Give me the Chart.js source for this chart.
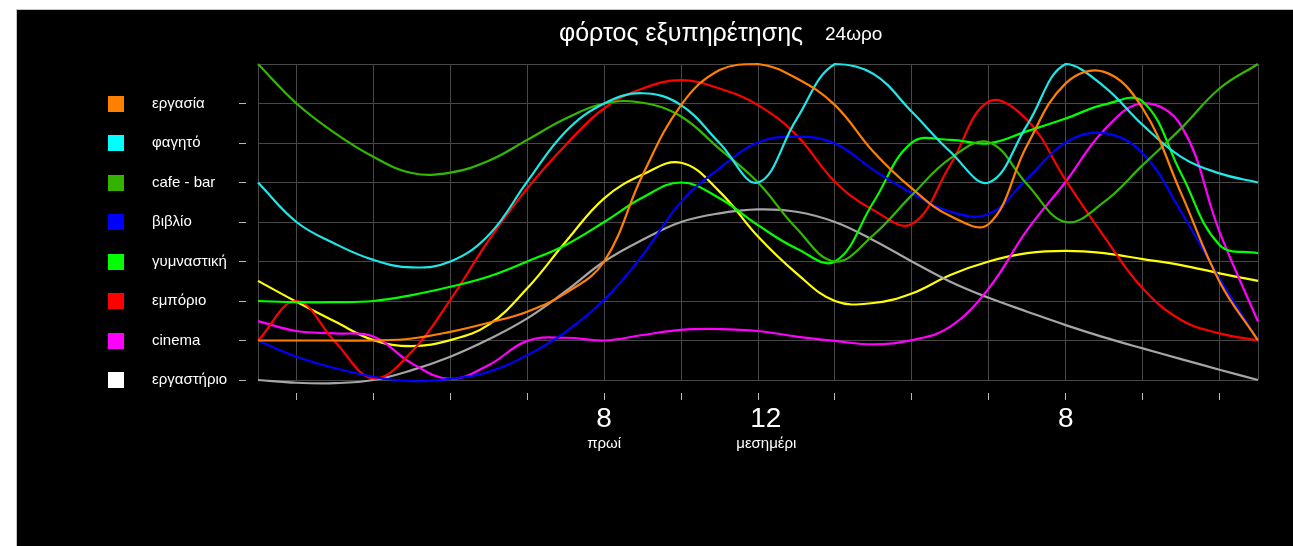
<!DOCTYPE html>
<html><head><meta charset="utf-8">
<script src="https://cdn.jsdelivr.net/npm/chart.js@4/dist/chart.umd.min.js"></script>
<style>
html,body{margin:0;padding:0;background:#fff;}
#wrap{position:absolute;left:16px;top:9px;width:1276px;height:536px;border-left:1px solid #c4c4c4;border-top:1px solid #c4c4c4;background:#000;}
canvas{display:block;}
</style></head><body>
<div id="wrap"><canvas id="c"></canvas></div>
<script>
// hours of the day (-1 .. 25)
const hours = [-1,0,1,2,3,4,5,6,7,8,9,10,11,12,13,14,15,16,17,18,19,20,21,22,23,24,25];
const xGridHours = [-1,0,2,4,6,8,10,12,14,16,18,20,22,24,25];
const xLabels = {8: '8', 12: '  12', 20: '8'};
const xSubLabels = {8: 'πρωί', 12: '    μεσημέρι'};
const titleMain = 'φόρτος εξυπηρέτησης';
const titleSub = '24ωρο';

const names = ['εργασία','φαγητό','cafe - bar','βιβλίο','γυμναστική','εμπόριο','cinema','εργαστήριο'];
const squareColors = ['#ff8000','#00ffff','#33b300','#0000ff','#00ff00','#ff0000','#ff00ff','#ffffff'];

const ergasia    = [1.0,1.0,1.0,1.0,1.05,1.22,1.45,1.73,2.2,3.0,5.19,6.96,7.85,8.0,7.64,6.96,5.78,4.85,4.15,3.95,5.95,7.51,7.8,6.88,4.73,2.49,1.0];
const fagito     = [5.0,4.0,3.45,3.04,2.85,3.0,3.67,5.02,6.29,7.0,7.26,6.96,6.0,5.0,6.6,8.0,7.75,6.79,5.78,5.0,6.46,8.0,7.43,6.46,5.65,5.23,5.0];
const cafeBar    = [8,7.0,6.25,5.65,5.24,5.25,5.55,6.08,6.62,7.0,7.02,6.67,5.85,5.0,3.84,3.0,3.67,4.68,5.61,6.02,4.95,4.0,4.51,5.44,6.37,7.38,8];
const vivlio     = [1.0,0.59,0.3,0.08,-0.03,0.03,0.21,0.63,1.22,2.03,3.16,4.51,5.36,6.01,6.16,5.99,5.32,4.73,4.26,4.2,5.1,6.01,6.25,5.74,4.26,2.57,1.0];
const gymnastiki = [2.0,1.97,1.97,2.0,2.15,2.36,2.62,3.0,3.42,4.0,4.62,5.0,4.6,3.92,3.33,3.0,4.5,6.01,6.08,5.99,6.3,6.62,6.97,7.05,5.23,3.42,3.21];
const emporio    = [1.0,2.0,0.97,0.04,0.72,2.03,3.54,4.85,5.95,6.88,7.38,7.59,7.38,6.96,6.2,5.02,4.3,3.95,5.45,7.05,6.58,5.06,3.63,2.32,1.52,1.18,1.0];
const cinema     = [1.49,1.24,1.18,1.1,0.42,0.03,0.38,0.99,1.07,1.0,1.14,1.27,1.29,1.24,1.1,0.99,0.9,1.01,1.35,2.32,3.8,5.02,6.33,7.0,6.44,3.75,1.48];
const ergastirio = [0.0,-0.07,-0.08,0.0,0.25,0.59,1.03,1.56,2.25,3.0,3.55,4.0,4.22,4.32,4.26,4.0,3.54,3.0,2.49,2.08,1.73,1.39,1.08,0.8,0.53,0.26,0.0];
const yellowLine = [2.51,1.98,1.48,1.01,0.86,1.01,1.4,2.32,3.5,4.6,5.2,5.5,4.77,3.63,2.7,2.0,1.95,2.19,2.66,3.0,3.21,3.27,3.21,3.06,2.91,2.7,2.51];

const lineColors = {
  ergasia:'#ff8000', fagito:'#1ee8e8', cafeBar:'#33b800', vivlio:'#0000ff',
  gymnastiki:'#00ff00', emporio:'#ff0000', cinema:'#ff00ff', ergastirio:'#a6a6a6', yellow:'#ffff00'
};

const FONT = '"Liberation Sans", Arial, Helvetica, sans-serif';
Chart.defaults.font.family = FONT;

function pts(arr){ return arr.map((v,i)=>({x: hours[i], y: v})); }
function ds(label, arr, color){
  return {label, data: pts(arr), borderColor: color, backgroundColor: color, borderWidth: 2.2,
          pointRadius: 0, tension: 0.4, fill: false, clip: 8};
}

const datasets = [
  ds(names[0], ergasia, lineColors.ergasia),
  ds(names[1], fagito, lineColors.fagito),
  ds(names[2], cafeBar, lineColors.cafeBar),
  ds(names[3], vivlio, lineColors.vivlio),
  ds(names[4], gymnastiki, lineColors.gymnastiki),
  ds(names[5], emporio, lineColors.emporio),
  ds(names[6], cinema, lineColors.cinema),
  ds(names[7], ergastirio, lineColors.ergastirio),
  ds('', yellowLine, lineColors.yellow)
];

const GRID = '#474747';
const TICK = '#b8b8b8';

const decor = {
  id: 'decor',
  afterDraw(chart){
    const ctx = chart.ctx;
    const y = chart.scales.y;
    ctx.save();
    names.forEach((n,i)=>{
      const py = Math.round(y.getPixelForValue(7 - i));
      ctx.fillStyle = squareColors[i];
      ctx.fillRect(91, py - 8, 16, 16);
    });
    ctx.fillStyle = '#ffffff';
    ctx.textBaseline = 'alphabetic';
    ctx.textAlign = 'left';
    ctx.font = '25px ' + FONT;
    ctx.fillText(titleMain, 542, 31);
    ctx.font = '19px ' + FONT;
    ctx.fillText(titleSub, 808, 30);
    ctx.restore();
  }
};

new Chart(document.getElementById('c'), {
  type: 'line',
  data: { datasets },
  plugins: [decor],
  options: {
    responsive: true,
    maintainAspectRatio: false,
    animation: false,
    events: [],
    layout: { padding: { left: 135, right: 35, top: 54, bottom: 0 } },
    plugins: { legend: { display: false }, tooltip: { enabled: false }, title: { display: false } },
    scales: {
      x: {
        type: 'linear', min: -1, max: 25, position: 'bottom',
        afterBuildTicks: s => { s.ticks = xGridHours.map(v => ({ value: v })); },
        afterFit: s => { s.height = 47; },
        grid: {
          color: GRID, lineWidth: 1, drawTicks: true, tickLength: 20,
          tickColor: c => (c.tick && (c.tick.value === -1 || c.tick.value === 25)) ? 'rgba(0,0,0,0)' : TICK,
          tickBorderDash: [7, 13], tickBorderDashOffset: 7
        },
        border: { display: false },
        ticks: { color: '#ffffff', font: { size: 28 }, padding: 2, maxRotation: 0, autoSkip: false,
                 callback: v => xLabels[v] !== undefined ? xLabels[v] : '' }
      },
      x2: {
        type: 'linear', min: -1, max: 25, position: 'bottom',
        afterBuildTicks: s => { s.ticks = xGridHours.map(v => ({ value: v })); },
        afterFit: s => { s.height = 119; },
        grid: { display: false },
        border: { display: false },
        ticks: { color: '#ffffff', font: { size: 15 }, padding: 0, maxRotation: 0, autoSkip: false,
                 callback: v => xSubLabels[v] !== undefined ? xSubLabels[v] : '' }
      },
      y: {
        type: 'linear', min: 0, max: 8, position: 'left',
        afterFit: s => { s.width = 106; },
        grid: {
          color: GRID, lineWidth: 1, drawTicks: true, tickLength: 19,
          tickColor: c => (c.tick && c.tick.value === 8) ? 'rgba(0,0,0,0)' : TICK,
          tickBorderDash: [7, 12], tickBorderDashOffset: 0
        },
        border: { display: false },
        ticks: { stepSize: 1, color: '#ffffff', font: { size: 15 }, crossAlign: 'far', autoSkip: false,
                 callback: v => (names[7 - v] !== undefined ? names[7 - v] : '') }
      }
    }
  }
});
</script>
</body></html>
